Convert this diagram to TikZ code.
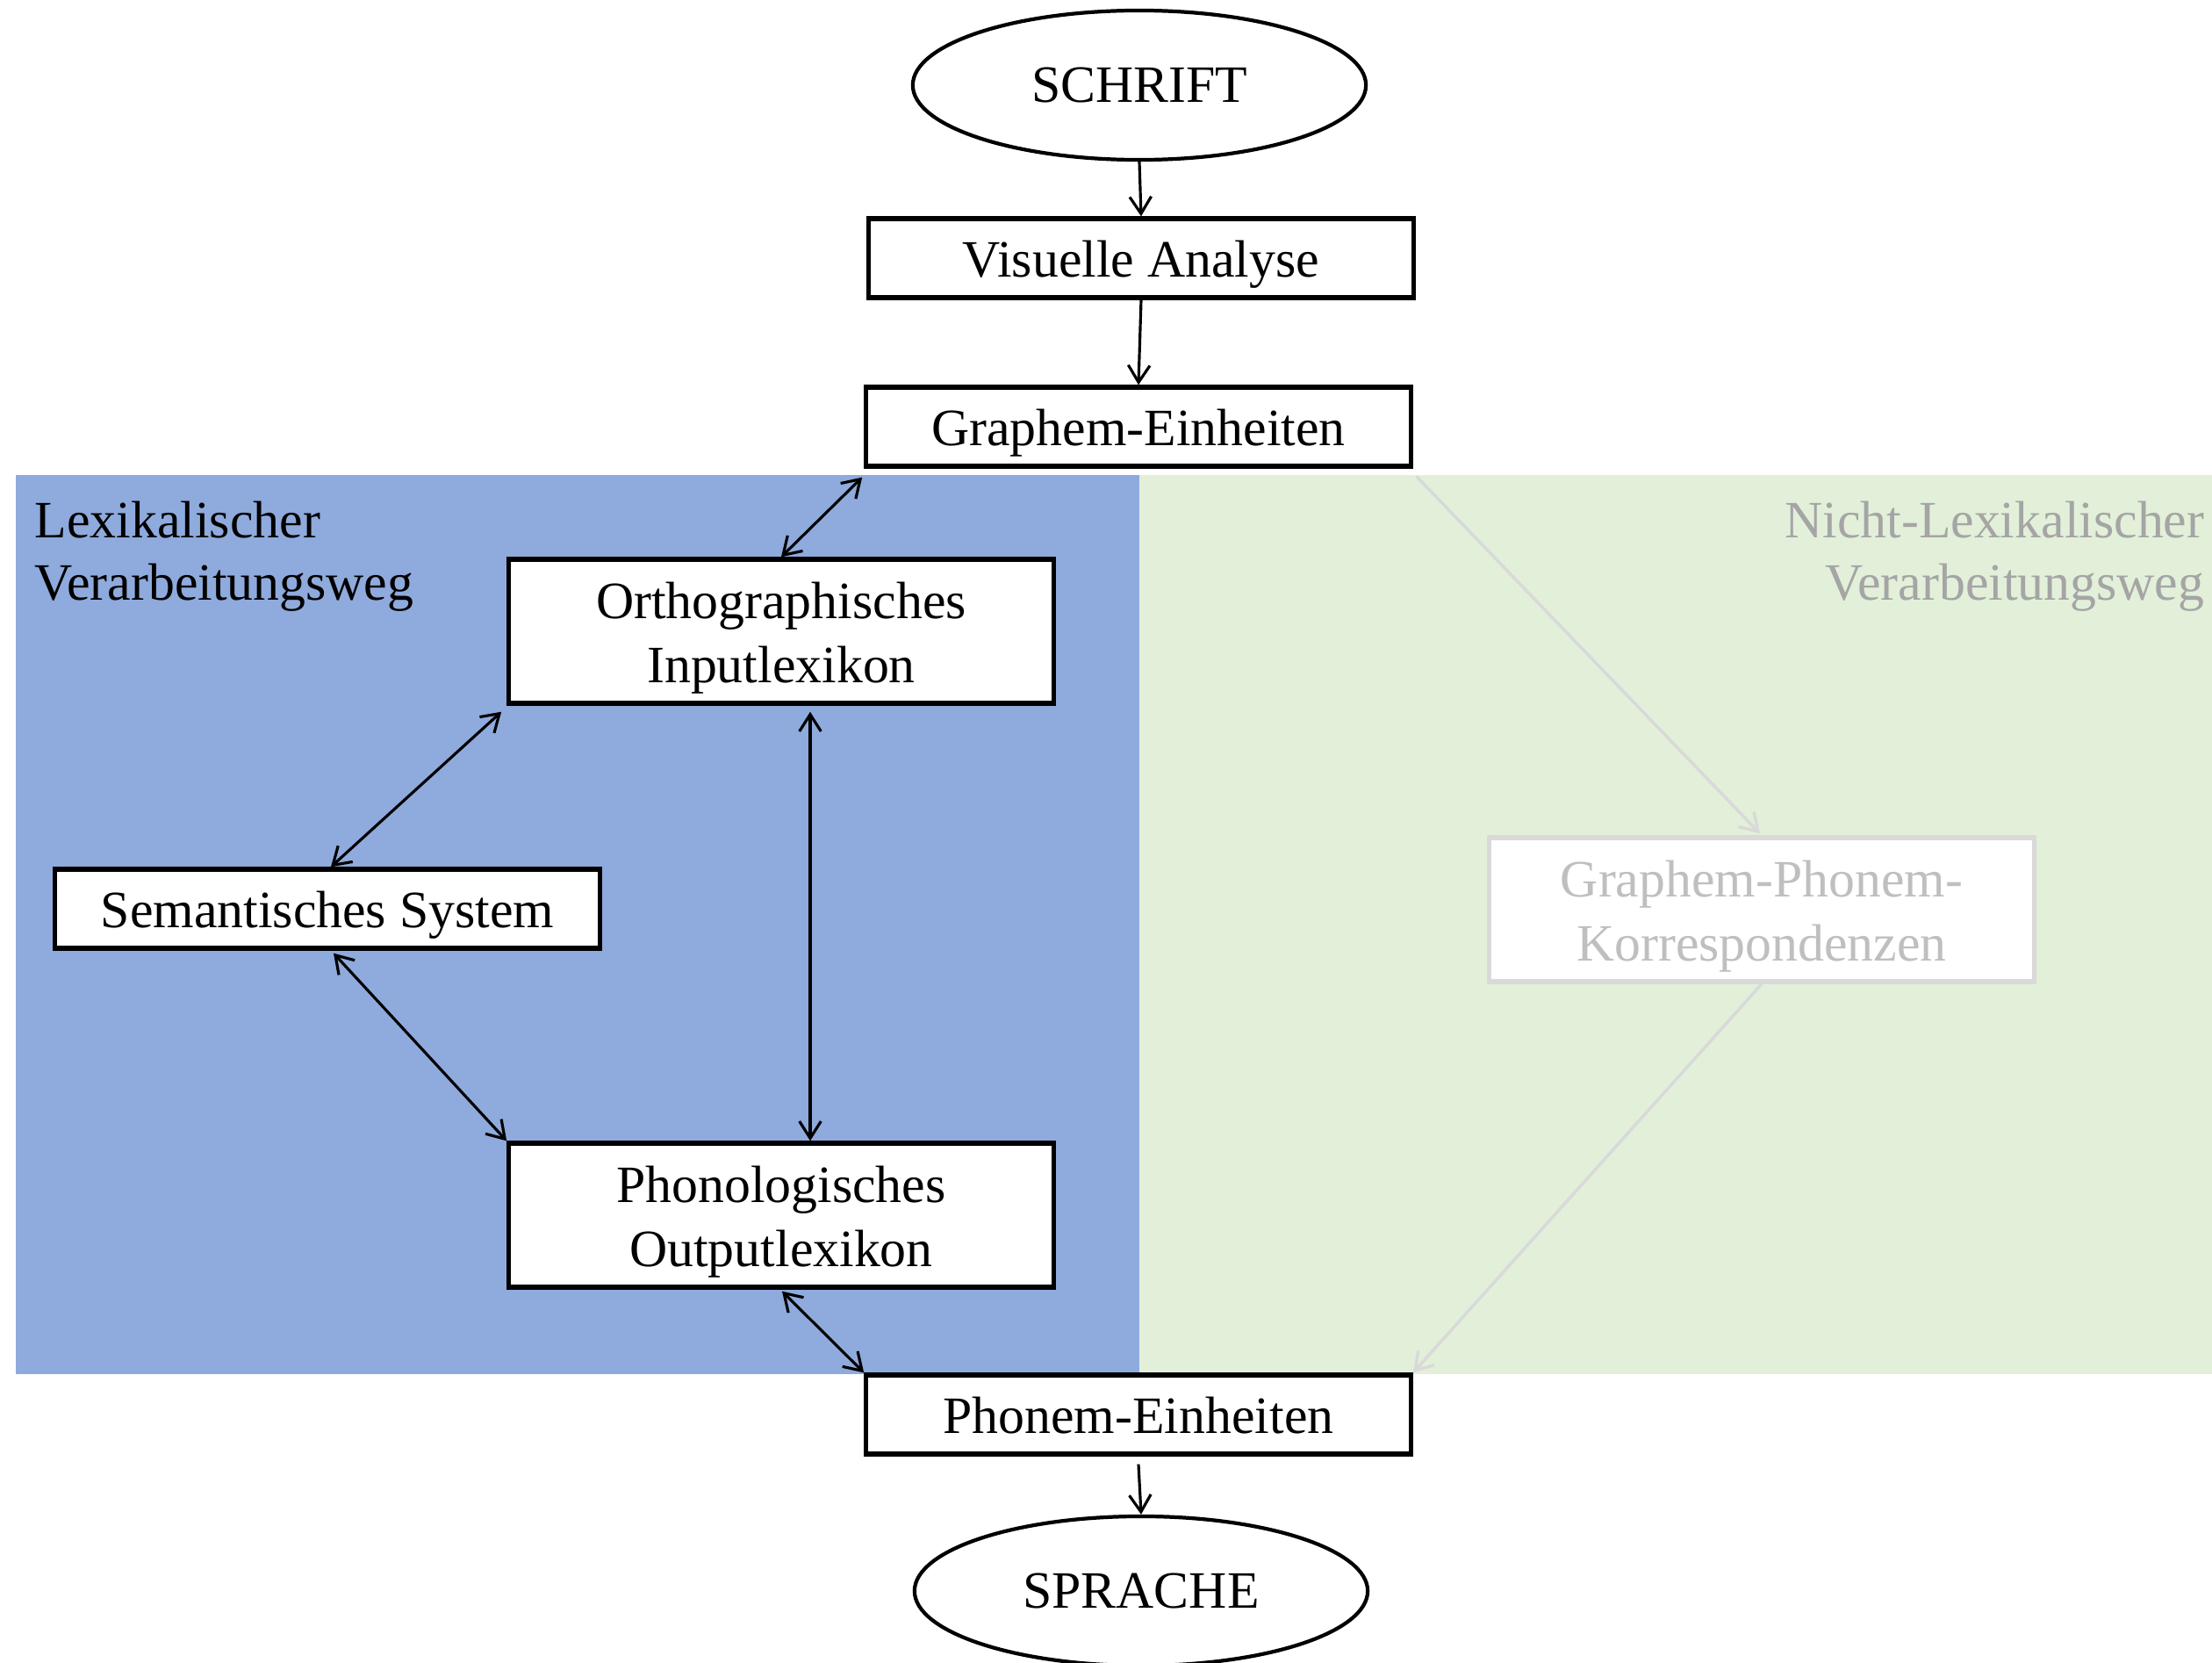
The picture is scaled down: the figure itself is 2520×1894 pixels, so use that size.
\documentclass[tikz,border=0pt]{standalone}
\usepackage{fontspec}
\setmainfont{Liberation Serif}
\usetikzlibrary{arrows.meta,shapes.geometric,calc}

\definecolor{lexblue}{HTML}{8FAADC}
\definecolor{nonlexgreen}{HTML}{E2F0D9}
\definecolor{fadedline}{HTML}{D9D9D9}
\definecolor{fadedtext}{HTML}{BFBFBF}
\definecolor{routegray}{HTML}{A5A5A5}

\tikzset{
  txt/.style={font=\fontsize{17}{20.5}\selectfont},
  stage/.style={txt, draw, line width=1.5pt, fill=white, align=center,
    inner sep=0pt, minimum width=6.2cm},
  oneline/.style={stage, minimum height=0.9cm, text height=16.2pt, text depth=3.7pt},
  twoline/.style={stage, minimum height=1.64cm, text height=36.7pt, text depth=3.7pt},
  faded/.style={draw=fadedline, text=fadedtext},
  oval/.style={txt, ellipse, draw, line width=1.2pt, fill=white,
    minimum width=5.16cm, minimum height=1.7cm, inner sep=0pt},
  tip/.tip={Straight Barb[length=5.5pt,width=7pt]},
  arr/.style={line width=0.9pt, -tip},
  darr/.style={line width=0.9pt, tip-tip},
  fadedarr/.style={line width=1pt, draw=fadedline, -tip},
  route/.style={txt, inner sep=0pt}
}

\begin{document}
\begin{tikzpicture}[x=0.01cm, y=-0.01cm]
  \useasboundingbox (0,0) rectangle (2520,1894);

  % the two processing routes
  \fill[lexblue] (18,541) rectangle (1298,1565);
  \fill[nonlexgreen] (1298,541) rectangle (2520,1565);

  \node[route, anchor=base west] (lexA) at (39,612) {Lexikalischer};
  \node[route, anchor=base west] (lexB) at (39,683) {Verarbeitungsweg};
  \node[route, anchor=base east, text=routegray] (nlexA) at (2512,612) {Nicht-Lexikalischer};
  \node[route, anchor=base east, text=routegray] (nlexB) at (2512,683) {Verarbeitungsweg};

  % stages
  \node[oval] (schrift) at (1298,97) {SCHRIFT};
  \node[oneline] (visual) at (1300,294) {Visuelle Analyse};
  \node[oneline] (graph) at (1297,486) {Graphem-Einheiten};
  \node[twoline] (ortho) at (890,719) {Orthographisches\\Inputlexikon};
  \node[oneline] (sem) at (373,1035) {Semantisches System};
  \node[twoline] (phono) at (890,1384) {Phonologisches\\Outputlexikon};
  \node[twoline, faded] (gpk) at (2007,1036) {Graphem-Phonem-\\Korrespondenzen};
  \node[oneline] (phonem) at (1297,1611) {Phonem-Einheiten};
  \node[oval] (sprache) at (1300,1812) {SPRACHE};

  % connections
  \draw[arr] (schrift.south) -- (visual.north);
  \draw[arr] (visual.south) -- (graph.north);
  \draw[darr] ($(graph.south west)+(-2,10)$) -- (ortho.north);
  \draw[darr] ($(ortho.south west)+(-6,7)$) -- ($(sem.north)+(4,0)$);
  \draw[darr] ($(ortho.south)+(33,7)$) -- ($(phono.north)+(33,0)$);
  \draw[darr] ($(sem.south)+(7,3)$) -- (phono.north west);
  \draw[darr] ($(phono.south)+(1,2)$) -- (phonem.north west);
  \draw[fadedarr] ($(graph.south east)+(4,9)$) -- ($(gpk.north)+(-2,-2)$);
  \draw[fadedarr] (gpk.south) -- (phonem.north east);
  \draw[arr] ($(phonem.south)+(0,9)$) -- (sprache.north);
\end{tikzpicture}
\end{document}
